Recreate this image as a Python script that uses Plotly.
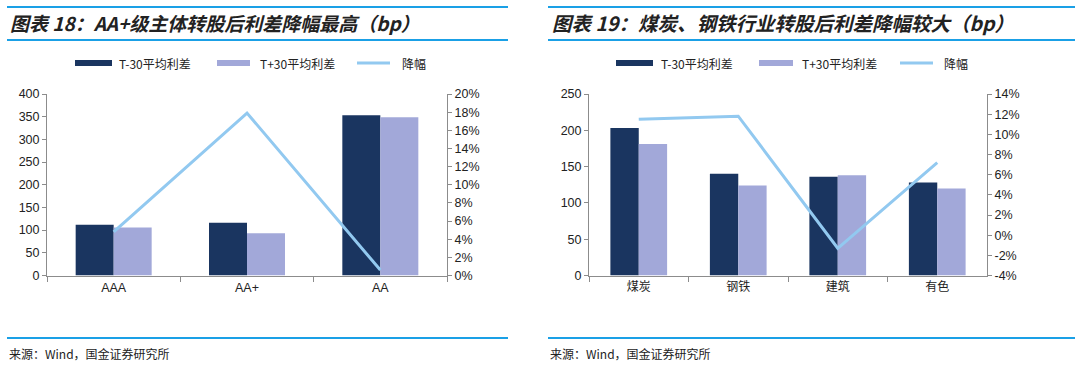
import plotly.graph_objects as go

# ---- data ----
cats1 = ["AAA", "AA+", "AA"]
t_minus_1 = [112, 116, 353]
t_plus_1 = [106, 93, 349]
drop_1 = [0.048, 0.179, 0.006]

cats2 = ["煤炭", "钢铁", "建筑", "有色"]
t_minus_2 = [203, 140, 136, 128]
t_plus_2 = [181, 124, 138, 120]
drop_2 = [0.115, 0.118, -0.013, 0.072]

y1_ticks = [0, 50, 100, 150, 200, 250, 300, 350, 400]
y3_ticks = [0, 0.02, 0.04, 0.06, 0.08, 0.10, 0.12, 0.14, 0.16, 0.18, 0.20]
y3_text = ["0%", "2%", "4%", "6%", "8%", "10%", "12%", "14%", "16%", "18%", "20%"]
y2_ticks = [0, 50, 100, 150, 200, 250]
y4_ticks = [-0.04, -0.02, 0, 0.02, 0.04, 0.06, 0.08, 0.10, 0.12, 0.14]
y4_text = ["-4%", "-2%", "0%", "2%", "4%", "6%", "8%", "10%", "12%", "14%"]

series_names = ["T-30平均利差", "T+30平均利差", "降幅"]
titles = ["图表 18：AA+级主体转股后利差降幅最高（bp）",
          "图表 19：煤炭、钢铁行业转股后利差降幅较大（bp）"]
source = "来源：Wind，国金证券研究所"

DARK = "#1a3560"
LIGHT = "#a2a8d9"
LINE = "#92c9f0"
BLUE = "#1aa0e6"
AXIS = "#8c8c8c"
TXT = "#222222"
W, H = 1080, 365

def px_x(x):
    return x / W

def px_y(y):
    return 1 - y / H

fig = go.Figure()

# left chart
fig.add_trace(go.Bar(x=cats1, y=t_minus_1, name=series_names[0], marker_color=DARK,
                     marker_line_width=0, xaxis="x", yaxis="y", showlegend=False))
fig.add_trace(go.Bar(x=cats1, y=t_plus_1, name=series_names[1], marker_color=LIGHT,
                     marker_line_width=0, xaxis="x", yaxis="y", showlegend=False))
fig.add_trace(go.Scatter(x=cats1, y=drop_1, name=series_names[2], mode="lines",
                         line=dict(color=LINE, width=3), xaxis="x", yaxis="y3", showlegend=False))
# right chart
fig.add_trace(go.Bar(x=cats2, y=t_minus_2, name=series_names[0], marker_color=DARK,
                     marker_line_width=0, xaxis="x2", yaxis="y2", showlegend=False))
fig.add_trace(go.Bar(x=cats2, y=t_plus_2, name=series_names[1], marker_color=LIGHT,
                     marker_line_width=0, xaxis="x2", yaxis="y2", showlegend=False))
fig.add_trace(go.Scatter(x=cats2, y=drop_2, name=series_names[2], mode="lines",
                         line=dict(color=LINE, width=3), xaxis="x2", yaxis="y4", showlegend=False))

tickfont = dict(family="Liberation Sans, Arial", size=12.5, color=TXT)
cjkfont = dict(family="Noto Sans CJK SC", size=12, color=TXT)

xcommon = dict(type="category", showline=True, linecolor=AXIS, linewidth=1,
               ticks="outside", tickson="boundaries", ticklen=5, tickcolor=AXIS,
               showgrid=False, zeroline=False, automargin=False)
ycommon = dict(showline=True, linecolor=AXIS, linewidth=1, ticks="outside", ticklen=4,
               tickcolor=AXIS, showgrid=False, zeroline=False, tickfont=tickfont,
               automargin=False)

dom_y = [px_y(275.5), px_y(94)]
fig.update_layout(
    width=W, height=H,
    margin=dict(l=0, r=0, t=0, b=0),
    paper_bgcolor="white", plot_bgcolor="white",
    barmode="group", bargap=0.43, bargroupgap=0,
    xaxis=dict(xcommon, domain=[px_x(47), px_x(447)], anchor="y", tickfont=tickfont),
    yaxis=dict(ycommon, domain=dom_y, range=[0, 400], tickvals=y1_ticks, anchor="x"),
    yaxis3=dict(ycommon, overlaying="y", side="right", anchor="x", range=[0, 0.20],
                tickvals=y3_ticks, ticktext=y3_text),
    xaxis2=dict(xcommon, domain=[px_x(589), px_x(987)], anchor="y2", tickfont=cjkfont),
    yaxis2=dict(ycommon, domain=dom_y, range=[0, 250], tickvals=y2_ticks, anchor="x2"),
    yaxis4=dict(ycommon, overlaying="y2", side="right", anchor="x2", range=[-0.04, 0.14],
                tickvals=y4_ticks, ticktext=y4_text),
)

shapes = []
annotations = []
# header/footer decorations for both panels
for (x0, x1) in [(7, 508), (548, 1075)]:
    for yy in (7, 40, 338):
        shapes.append(dict(type="line", xref="paper", yref="paper",
                           x0=px_x(x0), x1=px_x(x1), y0=px_y(yy), y1=px_y(yy),
                           line=dict(color=BLUE, width=2)))
titles_pos = [(8, titles[0]), (550, titles[1])]
for (tx, t), fs in zip(titles_pos, (19, 19.5)):
    annotations.append(dict(xref="paper", yref="paper", x=px_x(tx), y=px_y(23),
                            xanchor="left", yanchor="middle", showarrow=False,
                            text="<b><i>" + t + "</i></b>",
                            font=dict(family="Noto Sans CJK SC", size=fs, color=TXT)))
for tx in (7, 548):
    annotations.append(dict(xref="paper", yref="paper", x=px_x(tx), y=px_y(353),
                            xanchor="left", yanchor="middle", showarrow=False,
                            text=source, font=dict(family="Noto Sans CJK SC", size=12, color=TXT)))

# legends (drawn as swatches + labels)
legend_sets = [
    [(75, 112, 117), (217, 250, 258), (357, 390, 400)],
    [(616, 653, 659), (759, 793, 800), (900, 933, 942)],
]
for lset in legend_sets:
    for i, (s0, s1, tx) in enumerate(lset):
        if i < 2:
            shapes.append(dict(type="rect", xref="paper", yref="paper",
                               x0=px_x(s0), x1=px_x(s1), y0=px_y(66), y1=px_y(60),
                               fillcolor=DARK if i == 0 else LIGHT, line=dict(width=0)))
        else:
            shapes.append(dict(type="line", xref="paper", yref="paper",
                               x0=px_x(s0), x1=px_x(s1), y0=px_y(63), y1=px_y(63),
                               line=dict(color=LINE, width=3)))
        annotations.append(dict(xref="paper", yref="paper", x=px_x(tx), y=px_y(63),
                                xanchor="left", yanchor="middle", showarrow=False,
                                text=series_names[i],
                                font=dict(family="Noto Sans CJK SC", size=12, color=TXT)))

fig.update_layout(shapes=shapes, annotations=annotations)
fig.write_html("out.html", config={"displayModeBar": False},
               post_script="document.body.style.margin='0px';document.body.style.padding='0px';")
